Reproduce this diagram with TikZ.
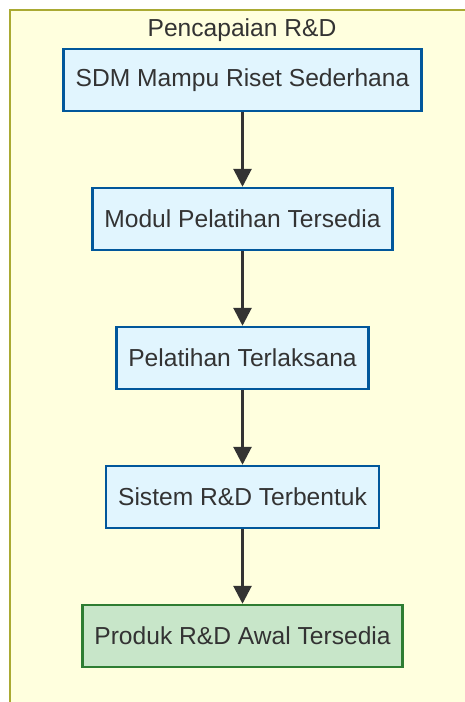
\documentclass[tikz,border=0pt]{standalone}
\usepackage{fontspec}
\setmainfont{Liberation Sans}
\usepackage{tikz}
\usetikzlibrary{arrows.meta}

\definecolor{areafill}{HTML}{FFFFDE}
\definecolor{arealine}{HTML}{AAAA33}
\definecolor{stepfill}{HTML}{E1F5FE}
\definecolor{stepline}{HTML}{01579B}
\definecolor{donefill}{HTML}{C8E6C9}
\definecolor{doneline}{HTML}{2E7D32}
\definecolor{txt}{HTML}{333333}

\tikzset{
  stepbox/.style={draw=stepline, fill=stepfill, line width=1.4pt, text=txt,
    minimum height=1.24cm, inner xsep=0.24cm, font=\fontsize{14}{16}\selectfont},
  donebox/.style={stepbox, draw=doneline, fill=donefill},
  flow/.style={draw=txt, line width=1.6pt, -{Triangle[length=0.36cm,width=0.36cm]}}
}

\begin{document}
\begin{tikzpicture}[x=0.02cm,y=-0.02cm]
\useasboundingbox (0,0) rectangle (465,702);
\fill[white] (0,0) rectangle (465,702);

% area
\draw[arealine, fill=areafill, line width=0.8pt] (10,10) rectangle (480,720);
\node[text=txt, font=\fontsize{14}{16}\selectfont] (title) at (242,30) {Pencapaian R\&D};

%-------------------------------------
\node[stepbox] (sdm) at (242.5,80) {SDM Mampu Riset Sederhana};
\node[stepbox] (modul) at (242.5,219) {Modul Pelatihan Tersedia};
\node[stepbox] (latih) at (242.5,358) {Pelatihan Terlaksana};
\node[stepbox] (sistem) at (242.5,497) {Sistem R\&D Terbentuk};
\node[donebox] (produk) at (242.5,636) {Produk R\&D Awal Tersedia};

%-------------------------------------
\draw[flow] (sdm) -- (modul);
\draw[flow] (modul) -- (latih);
\draw[flow] (latih) -- (sistem);
\draw[flow] (sistem) -- (produk);
\end{tikzpicture}
\end{document}
